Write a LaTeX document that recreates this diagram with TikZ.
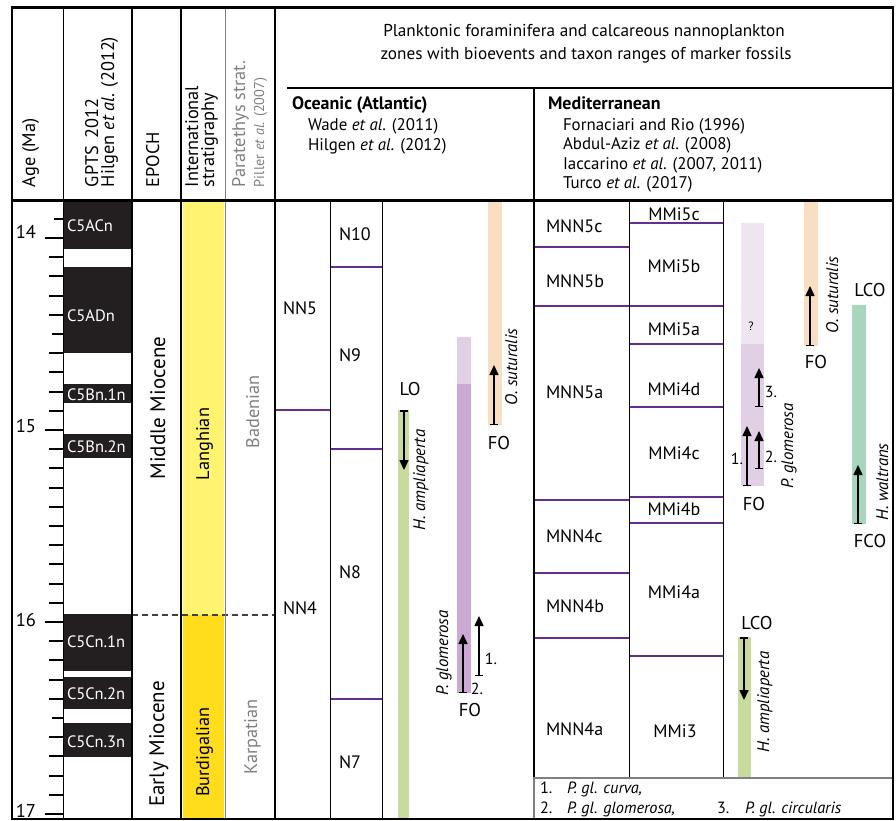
\documentclass[tikz,border=0pt]{standalone}
\usepackage{fontspec}
\setmainfont{PT Sans}
\usetikzlibrary{arrows.meta}
\definecolor{zonepurple}{RGB}{102,45,145}
\definecolor{langh}{RGB}{255,243,111}
\definecolor{burdi}{RGB}{255,221,28}
\definecolor{ampgreen}{RGB}{201,218,157}
\definecolor{waltgreen}{RGB}{167,213,189}
\definecolor{glomdark}{RGB}{203,169,211}
\definecolor{glomlight}{RGB}{225,207,229}
\definecolor{glomfaint}{RGB}{238,229,241}
\definecolor{sutur}{RGB}{248,223,196}
\definecolor{gptsblack}{RGB}{35,31,32}
\definecolor{paragray}{RGB}{128,128,128}
\newcommand\fsTitle{\fontsize{17.2}{20}\selectfont}
\newcommand\fsHead{\fontsize{18.3}{21}\selectfont}
\newcommand\fsRef{\fontsize{16.9}{20}\selectfont}
\newcommand\fsRegion{\fontsize{18}{21}\selectfont\bfseries}
\newcommand\fsEpoch{\fontsize{21}{24}\selectfont}
\newcommand\fsSmallHead{\fontsize{14.3}{16}\selectfont}
\newcommand\fsZone{\fontsize{18}{21}\selectfont}
\newcommand\fsEvt{\fontsize{18.5}{21}\selectfont}
\newcommand\fsSpec{\fontsize{16.8}{19}\selectfont\itshape}
\newcommand\fsNum{\fontsize{16}{18}\selectfont}
\newcommand\fsLeg{\fontsize{16.3}{19}\selectfont}
\newcommand\fsGpts{\fontsize{16.5}{19}\selectfont}
\begin{document}
\begin{tikzpicture}[x=1pt,y=-1pt,
  txt/.style={inner sep=0pt,outer sep=0pt},
  hrot/.style={txt,rotate=90,anchor=base west,font=\fsHead},
  brot/.style={txt,rotate=90,anchor=base,font=\fsHead},
  reftxt/.style={txt,anchor=base west,font=\fsRef},
  zonelbl/.style={txt,anchor=west,font=\fsZone},
  mmilbl/.style={txt,anchor=center,font=\fsZone},
  gptslbl/.style={txt,anchor=west,font=\fsGpts,text=white},
  evtlbl/.style={txt,anchor=center,font=\fsEvt},
  numlbl/.style={txt,anchor=center,font=\fsNum},
  species/.style={txt,rotate=90,anchor=base,font=\fsSpec},
  bnd/.style={draw=zonepurple,line width=1.8pt},
  thin/.style={draw=black,line width=1pt},
  thick/.style={draw=black,line width=2.5pt},
  evarrow/.style={line width=1.5pt,{Bar[width=8pt,line width=1.5pt]}-{Triangle[width=9pt,length=10pt]}},
  tickmaj/.style={line width=2.6pt},
  tickmin/.style={line width=2pt}]
\useasboundingbox (0,0) rectangle (896,821);
% ---------- fills ----------
\fill[langh] (183,202) rectangle (224,615);
\fill[burdi] (183,615) rectangle (224,819);
% GPTS chrons
\fill[gptsblack] (63,200) rectangle (132,249);
\fill[gptsblack] (63,267) rectangle (132,353);
\fill[gptsblack] (63,384) rectangle (132,403);
\fill[gptsblack] (63,434) rectangle (132,458);
\fill[gptsblack] (63,614) rectangle (132,671);
\fill[gptsblack] (63,677) rectangle (132,709);
\fill[gptsblack] (63,723) rectangle (132,757);
% taxon ranges, Oceanic
\fill[ampgreen] (398,410) rectangle (409,819);
\fill[glomlight] (457,337) rectangle (471,384);
\fill[glomdark] (457,384) rectangle (471,693);
\fill[sutur] (488,201) rectangle (502,425);
% taxon ranges, Mediterranean
\fill[glomfaint] (741,223) rectangle (764,344);
\fill[glomlight] (741,344) rectangle (764,486);
\fill[sutur] (804,201) rectangle (818,346);
\fill[waltgreen] (852,305) rectangle (866,524);
\fill[ampgreen] (738,637) rectangle (751,778);
% ---------- age ticks ----------
\foreach \i in {0,...,31}{
  \pgfmathsetmacro{\ty}{218.8+19.2*\i}
  \ifnum\i=1 \draw[tickmaj] (45,\ty) -- (63,\ty);
  \else\ifnum\i=11 \draw[tickmaj] (45,\ty) -- (63,\ty);
  \else\ifnum\i=21 \draw[tickmaj] (45,\ty) -- (63,\ty);
  \else\ifnum\i=31 \draw[tickmaj] (45,\ty) -- (63,\ty);
  \else\ifnum\i=0 \draw[tickmin] (54,\ty) -- (63,\ty);
  \else\ifnum\i=6 \draw[tickmin] (52,\ty) -- (63,\ty);
  \else\ifnum\i=26 \draw[tickmin] (52,\ty) -- (63,\ty);
  \else \draw[tickmin] (49,\ty) -- (63,\ty);
  \fi\fi\fi\fi\fi\fi\fi}
\node[txt,anchor=base east,font=\fsEvt] (a14) at (36,238) {14};
\node[txt,anchor=base east,font=\fsEvt] (a15) at (36,432) {15};
\node[txt,anchor=base east,font=\fsEvt] (a16) at (36,626) {16};
\node[txt,anchor=base east,font=\fsEvt] (a17) at (36,817) {17};
% ---------- zone boundaries ----------
\draw[bnd] (275,410) -- (330,410);
\draw[bnd] (330,267) -- (382,267);
\draw[bnd] (330,449) -- (382,449);
\draw[bnd] (330,699) -- (382,699);
\foreach \yy in {247,306,500,573,638} \draw[bnd] (534,\yy) -- (629,\yy);
\foreach \yy in {223,306,344,407,497,523,656} \draw[bnd] (629,\yy) -- (723,\yy);
% dashed stage boundary
\draw[line width=1.2pt,draw=black!75,dash pattern=on 6pt off 4pt] (132,615) -- (275,615);
% ---------- frame and columns ----------
\draw[line width=1pt,draw=paragray] (225,8) -- (225,819);
\draw[thin] (63,8) -- (63,819);
\draw[thick] (132,8) -- (132,819);
\draw[thick] (181,8) -- (181,819);
\draw[line width=1.5pt] (275,8) -- (275,819);
\draw[thin] (330,200) -- (330,819);
\draw[thin] (382,200) -- (382,819);
\draw[line width=1.4pt] (287,88) -- (893,88);
\draw[line width=2pt] (534,88) -- (534,778);
\draw[thin] (629,200) -- (629,778);
\draw[thin] (723,200) -- (723,778);
\draw[draw=paragray,line width=1.2pt,fill=white] (534,778) rectangle (893,819);
\draw[line width=3pt] (12,200) -- (893,200);
\draw[line width=2pt] (12,8) rectangle (893,819);
\draw[line width=3pt] (11,8) -- (894,8);
% ---------- header texts ----------
\node[hrot] (hage) at (35,187) {Age (Ma)};
\node[hrot] (hgpts) at (98,187) {GPTS\, 2012};
\node[hrot] (hhil) at (114,187) {Hilgen \textit{et al}. (2012)};
\node[hrot] (hepoch) at (159,187) {EPOCH};
\node[hrot] (hint) at (198,187) {International};
\node[hrot] (hstrat) at (214,187) {stratigraphy};
\node[hrot,text=paragray] (hpara) at (245,187) {Paratethys strat.};
\node[hrot,text=paragray,font=\fsSmallHead] (hpil) at (264,187) {Piller \textit{et al}. (2007)};
\node[txt,anchor=base,font=\fsTitle] (title1) at (584,37) {Planktonic foraminifera and calcareous nannoplankton};
\node[txt,anchor=base,font=\fsTitle] (title2) at (586,60) {zones with bioevents and taxon ranges of marker fossils};
\node[txt,anchor=base west,font=\fsRegion] (hoce) at (292,110) {Oceanic (Atlantic)};
\node[reftxt] (hwade) at (308,131) {Wade \textit{et al}. (2011)};
\node[reftxt] (hhil2) at (308,151) {Hilgen \textit{et al}. (2012)};
\node[txt,anchor=base west,font=\fsRegion] (hmed) at (548,110) {Mediterranean};
\node[reftxt] (hforn) at (563,131) {Fornaciari and Rio (1996)};
\node[reftxt] (habd) at (563,150) {Abdul-Aziz \textit{et al}. (2008)};
\node[reftxt] (hiac) at (563,170) {Iaccarino \textit{et al}. (2007, 2011)};
\node[reftxt] (htur) at (563,189) {Turco \textit{et al}. (2017)};
% ---------- body rotated texts ----------
\node[brot,font=\fsEpoch] (mmio) at (165,408) {Middle Miocene};
\node[brot,font=\fsEpoch] (emio) at (164,744) {Early Miocene};
\node[brot] (lang) at (209,444) {Langhian};
\node[brot] (burd) at (209,752) {Burdigalian};
\node[brot,text=paragray] (bade) at (259,412) {Badenian};
\node[brot,text=paragray] (karp) at (257,737) {Karpatian};
% ---------- GPTS labels ----------
\node[gptslbl] (c5acn) at (67,226) {C5ACn};
\node[gptslbl] (c5adn) at (67,316) {C5ADn};
\node[gptslbl] (c5bn1) at (67,395) {C5Bn.1n};
\node[gptslbl] (c5bn2) at (67,447) {C5Bn.2n};
\node[gptslbl] (c5cn1) at (67,642) {C5Cn.1n};
\node[gptslbl] (c5cn2) at (67,694) {C5Cn.2n};
\node[gptslbl] (c5cn3) at (67,742) {C5Cn.3n};
% ---------- zone labels ----------
\node[zonelbl] (nn5) at (283,308) {NN5};
\node[zonelbl] (nn4) at (283,608) {NN4};
\node[zonelbl] (n10) at (339,234) {N10};
\node[zonelbl] (n9) at (339,355) {N9};
\node[zonelbl] (n8) at (339,572) {N8};
\node[zonelbl] (n7) at (339,762) {N7};
\node[zonelbl] (mnn5c) at (546,226) {MNN5c};
\node[zonelbl] (mnn5b) at (546,281) {MNN5b};
\node[zonelbl] (mnn5a) at (546,392) {MNN5a};
\node[zonelbl] (mnn4c) at (546,536) {MNN4c};
\node[zonelbl] (mnn4b) at (546,606) {MNN4b};
\node[zonelbl] (mnn4a) at (546,729) {MNN4a};
\node[mmilbl] (mmi5c) at (674,214) {MMi5c};
\node[mmilbl] (mmi5b) at (674,266) {MMi5b};
\node[mmilbl] (mmi5a) at (674,329) {MMi5a};
\node[mmilbl] (mmi4d) at (674,389) {MMi4d};
\node[mmilbl] (mmi4c) at (674,453) {MMi4c};
\node[mmilbl] (mmi4b) at (674,509) {MMi4b};
\node[mmilbl] (mmi4a) at (674,592) {MMi4a};
\node[mmilbl] (mmi3) at (675,731) {MMi3};
% ---------- bioevent arrows ----------
\coordinate (oAmpB) at (404,410); \coordinate (oAmpT) at (404,470);
\coordinate (oGl2B) at (463,693); \coordinate (oGl2T) at (463,634);
\coordinate (oGl1B) at (479,676); \coordinate (oGl1T) at (479,616);
\coordinate (oSutB) at (494,425); \coordinate (oSutT) at (494,365);
\coordinate (mGl1B) at (747,486); \coordinate (mGl1T) at (747,426);
\coordinate (mGl2B) at (759,469); \coordinate (mGl2T) at (759,431);
\coordinate (mGl3B) at (759,407); \coordinate (mGl3T) at (759,368);
\coordinate (mSutB) at (810,346); \coordinate (mSutT) at (810,286);
\coordinate (mWalB) at (858,524); \coordinate (mWalT) at (858,465);
\coordinate (mAmpB) at (744,637); \coordinate (mAmpT) at (744,700);
\foreach \s/\e in {oAmpB/oAmpT,oGl2B/oGl2T,oGl1B/oGl1T,oSutB/oSutT,mGl1B/mGl1T,mGl2B/mGl2T,mGl3B/mGl3T,mSutB/mSutT,mWalB/mWalT,mAmpB/mAmpT}
  \draw[evarrow] (\s) -- (\e);
% ---------- event labels ----------
\node[evtlbl] (oLO) at (410,389) {LO};
\node[evtlbl] (oFOg) at (470,710) {FO};
\node[evtlbl] (oFOs) at (499,443) {FO};
\node[numlbl] (oN1) at (491,659) {1.};
\node[numlbl] (oN2) at (477,689) {2.};
\node[evtlbl] (mFOg) at (754,504) {FO};
\node[numlbl] (mN1) at (737,459) {1.};
\node[numlbl] (mN2) at (771,457) {2.};
\node[numlbl] (mN3) at (771,392) {3.};
\node[txt,font=\fontsize{12}{14}\selectfont] (mQ) at (751,326) {?};
\node[evtlbl] (mFOs) at (816,362) {FO};
\node[evtlbl] (mLCOw) at (870,290) {LCO};
\node[evtlbl] (mFCO) at (870,541) {FCO};
\node[evtlbl] (mLCOa) at (757,623) {LCO};
% ---------- species names ----------
\node[species] (sOamp) at (425,480) {H. ampliaperta};
\node[species] (sOglo) at (448,653) {P. glomerosa};
\node[species] (sOsut) at (517,367) {O. suturalis};
\node[species] (sMglo) at (793,446) {P. glomerosa};
\node[species] (sMsut) at (838,295) {O. suturalis};
\node[species] (sMwal) at (888,482) {H. waltrans};
\node[species] (sMamp) at (769,702) {H. ampliaperta};
% ---------- legend ----------
\node[txt,anchor=base west,font=\fsLeg] (l1) at (540,793) {1.};
\node[txt,anchor=base west,font=\fsLeg\itshape] (l1t) at (567,793) {P. gl. curva,};
\node[txt,anchor=base west,font=\fsLeg] (l2) at (540,813) {2.};
\node[txt,anchor=base west,font=\fsLeg\itshape] (l2t) at (567,813) {P. gl. glomerosa,};
\node[txt,anchor=base west,font=\fsLeg] (l3) at (717,813) {3.};
\node[txt,anchor=base west,font=\fsLeg\itshape] (l3t) at (745,813) {P. gl. circularis};
\end{tikzpicture}
\end{document}
